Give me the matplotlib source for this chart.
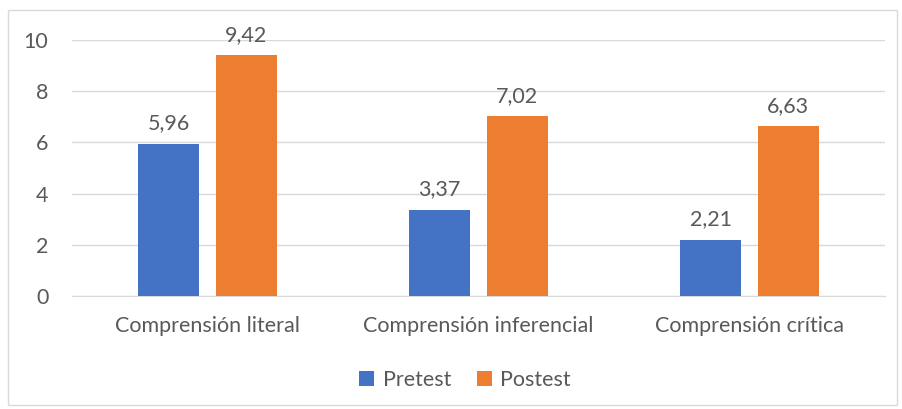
import numpy as np
import matplotlib
matplotlib.use('Agg')
from matplotlib import pyplot as plt
from matplotlib.patches import Rectangle

categories = ['Comprensión literal', 'Comprensión inferencial', 'Comprensión crítica']
pretest = [5.96, 3.37, 2.21]
postest = [9.42, 7.02, 6.63]
labels_pre = ['5,96', '3,37', '2,21']
labels_post = ['9,42', '7,02', '6,63']

plt.rcParams['font.family'] = ['Lato', 'DejaVu Sans']
txt = '#595959'
fs = 15.5

fig = plt.figure(figsize=(9.02, 4.09), dpi=100)
ax = fig.add_axes([0.0798, 0.276, 0.981 - 0.0798, 0.902 - 0.276])

x = np.arange(len(categories))
w = 0.225
b1 = ax.bar(x - 0.143, pretest, w, color='#4472C4', label='Pretest', zorder=3)
b2 = ax.bar(x + 0.143, postest, w, color='#ED7D31', label='Postest', zorder=3)

for bars, labs in ((b1, labels_pre), (b2, labels_post)):
    for r, l in zip(bars, labs):
        ax.text(r.get_x() + r.get_width() / 2, r.get_height() + 0.4, l,
                ha='center', va='bottom', fontsize=fs, color=txt)

ax.set_xlim(-0.5, 2.5)
ax.set_ylim(0, 10)
ax.set_yticks([0, 2, 4, 6, 8, 10])
ax.set_xticks(x)
ax.set_xticklabels(categories, fontsize=fs, color=txt)
ax.tick_params(axis='y', labelsize=fs, labelcolor=txt, length=0, pad=17)
ax.tick_params(axis='x', length=0, pad=14)
ax.grid(axis='y', color='#D9D9D9', linewidth=1, zorder=0)
for s in ['top', 'right', 'left']:
    ax.spines[s].set_visible(False)
ax.spines['bottom'].set_color('#D9D9D9')

fig.legend(loc='center', bbox_to_anchor=(465 / 902, 1 - 380 / 409), ncol=2,
           frameon=False, fontsize=fs, labelcolor=txt, handlelength=0.7,
           handleheight=0.7, handletextpad=0.4, columnspacing=1.2)

fig.patches.append(Rectangle((8 / 902, 4 / 409), 889 / 902, 395 / 409,
                             transform=fig.transFigure, fill=False,
                             edgecolor='#D9D9D9', linewidth=1))

plt.savefig('out.png')
